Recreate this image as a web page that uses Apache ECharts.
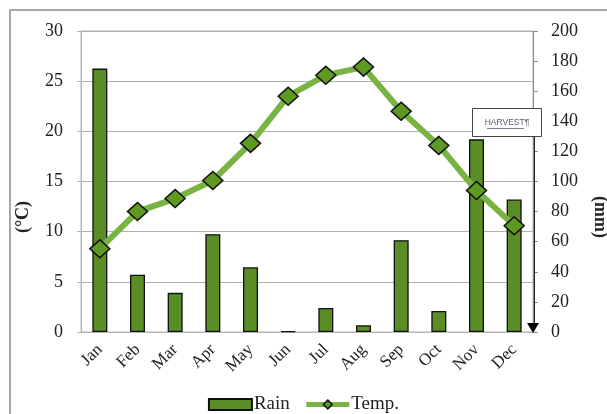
<!DOCTYPE html>
<html>
<head>
<meta charset="utf-8">
<script src="https://cdn.jsdelivr.net/npm/echarts@6/dist/echarts.min.js"></script>
<style>
  html, body { margin: 0; padding: 0; background: #fff; }
  #chart { width: 607px; height: 414px; }
</style>
</head>
<body>
<div id="chart"></div>
<script>
// Monthly climate: rainfall (mm, bars) and mean temperature (°C, line)
const months = ['Jan', 'Feb', 'Mar', 'Apr', 'May', 'Jun', 'Jul', 'Aug', 'Sep', 'Oct', 'Nov', 'Dec'];
const rainMm = [175, 38, 26, 65, 43, 0.5, 16, 4.5, 61, 14, 128, 88];
const tempC = [8.3, 12.0, 13.3, 15.1, 18.8, 23.5, 25.6, 26.4, 22.0, 18.6, 14.1, 10.6];
const tempTicks = { min: 0, max: 30, step: 5 };
const rainTicks = { min: 0, max: 200, step: 20 };

const serif = '"Liberation Serif", "Times New Roman", serif';
const textColor = '#222';
const barGreen = '#5b8d27';
const lineGreen = '#79b443';
const markerGreen = '#5e9a22';

const chart = echarts.init(document.getElementById('chart'), null, { renderer: 'canvas' });

chart.setOption({
  animation: false,
  backgroundColor: '#fff',
  grid: {
    left: 81, right: 74, top: 31, bottom: 82,
    containLabel: false,
    outerBoundsMode: 'none',
    show: true,
    borderColor: '#b5b5b5',
    borderWidth: 1
  },
  legend: {
    left: 'center',
    top: 390,
    itemWidth: 43,
    itemHeight: 11,
    itemGap: 14,
    textStyle: { fontFamily: serif, fontSize: 19, color: textColor, padding: [0, 0, 0, -3] },
    data: [
      { name: 'Rain', icon: 'rect' },
      {
        name: 'Temp.',
        lineStyle: { color: lineGreen, width: 5 },
        itemStyle: { color: markerGreen, borderColor: '#111', borderWidth: 1.5 }
      }
    ]
  },
  xAxis: {
    type: 'category',
    data: months,
    axisLine: { lineStyle: { color: '#b5b5b5', width: 1 } },
    axisTick: { show: false },
    axisLabel: {
      rotate: 45,
      margin: 15,
      fontFamily: serif,
      fontSize: 17,
      color: textColor,
      interval: 0
    }
  },
  yAxis: [
    {
      type: 'value',
      min: tempTicks.min, max: tempTicks.max, interval: tempTicks.step,
      axisLine: { show: true, lineStyle: { color: '#b5b5b5' } },
      axisTick: { show: true, length: 4, lineStyle: { color: '#b5b5b5' } },
      splitLine: { show: true, lineStyle: { color: '#b0b0b0', width: 1 } },
      axisLabel: { margin: 18, fontFamily: serif, fontSize: 18, color: textColor }
    },
    {
      type: 'value',
      min: rainTicks.min, max: rainTicks.max, interval: rainTicks.step,
      position: 'right',
      axisLine: { show: true, lineStyle: { color: '#8a8a8a' } },
      axisTick: { show: true, inside: false, length: 5, lineStyle: { color: '#8a8a8a' } },
      splitLine: { show: false },
      axisLabel: { margin: 18, fontFamily: serif, fontSize: 18, color: textColor }
    }
  ],
  series: [
    {
      name: 'Rain',
      type: 'bar',
      yAxisIndex: 1,
      data: rainMm,
      barWidth: 15,
      itemStyle: { color: barGreen, borderColor: '#111', borderWidth: 1.3 },
      z: 2
    },
    {
      name: 'Temp.',
      type: 'line',
      yAxisIndex: 0,
      data: tempC,
      symbol: 'diamond',
      symbolSize: [20, 18],
      lineStyle: { color: lineGreen, width: 6 },
      itemStyle: { color: markerGreen, borderColor: '#111', borderWidth: 1.5 },
      z: 3
    }
  ],
  graphic: [
    // page frame
    { type: 'polyline', shape: { points: [[10, 414], [10, 10], [607, 10]] },
      style: { stroke: '#a8a8a8', lineWidth: 2, fill: null }, z: 0, silent: true },
    // harvest marker: label box with an arrow down to the axis
    { type: 'line', shape: { x1: 534.5, y1: 137, x2: 534.5, y2: 324 },
      style: { stroke: '#222', lineWidth: 1 }, z: 10 },
    { type: 'polygon', shape: { points: [[527, 323], [539, 323], [533, 333]] },
      style: { fill: '#000' }, z: 10 },
    { type: 'rect', shape: { x: 472.5, y: 108.5, width: 69, height: 28 },
      style: { fill: '#fff', stroke: '#444', lineWidth: 1 }, z: 10 },
    { type: 'text', x: 507, y: 123,
      style: { text: 'HARVEST¶', fontFamily: 'Arial, "Liberation Sans", sans-serif', fontSize: 8.5,
               fill: '#5a6072', align: 'center', verticalAlign: 'middle' }, z: 11 },
    { type: 'line', shape: { x1: 487, y1: 128.5, x2: 524, y2: 128.5 },
      style: { stroke: '#5a6072', lineWidth: 0.8 }, z: 11 },
    // axis titles
    { type: 'text', x: 23, y: 217, rotation: Math.PI / 2,
      style: { text: '(°C)', fontFamily: serif, fontSize: 18, fontWeight: 'bold',
               fill: textColor, align: 'center', verticalAlign: 'middle' }, z: 10 },
    { type: 'text', x: 600, y: 217, rotation: -Math.PI / 2,
      style: { text: '(mm)', fontFamily: serif, fontSize: 18, fontWeight: 'bold',
               fill: textColor, align: 'center', verticalAlign: 'middle' }, z: 10 }
  ]
});
</script>
</body>
</html>
